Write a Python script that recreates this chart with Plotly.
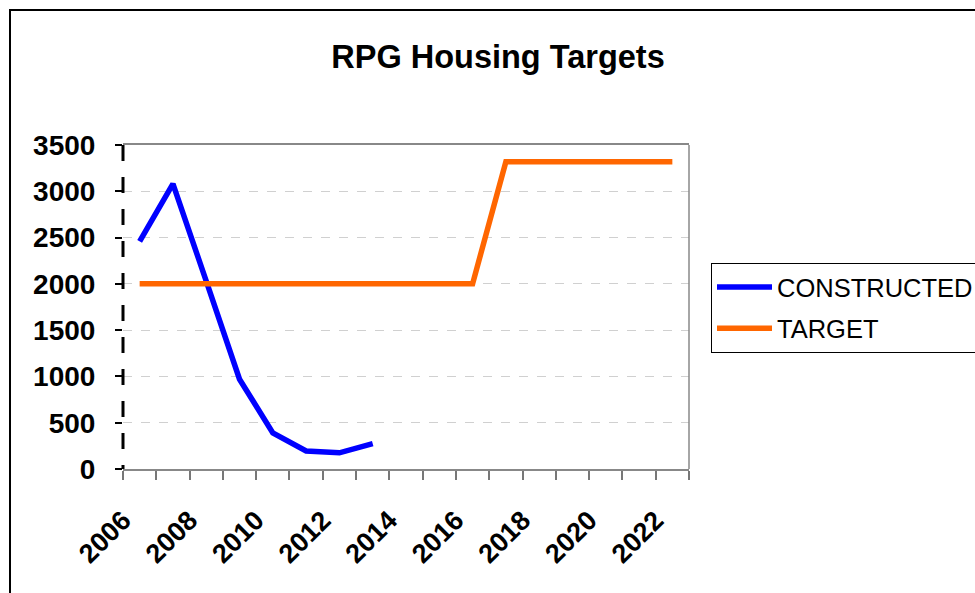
import plotly.graph_objects as go

years = list(range(2006, 2023))
constructed_years = list(range(2006, 2014))
constructed = [2460, 3080, 2030, 970, 390, 195, 175, 275]
target = [2000, 2000, 2000, 2000, 2000, 2000, 2000, 2000, 2000, 2000, 2000,
          3320, 3320, 3320, 3320, 3320, 3320]
x_tick_positions = [y - 0.5 for y in range(2006, 2024)]
x_tick_labels = ["2006", "", "2008", "", "2010", "", "2012", "", "2014", "",
                 "2016", "", "2018", "", "2020", "", "2022", ""]
y_ticks = [0, 500, 1000, 1500, 2000, 2500, 3000, 3500]

FONT = "Arial, Liberation Sans, sans-serif"
W, H = 975, 593
L, R, T, B = 123, 689, 145, 469

fig = go.Figure()
fig.add_trace(go.Scatter(x=constructed_years, y=constructed, mode="lines",
                         name="CONSTRUCTED", line=dict(color="#0000FF", width=5.5),
                         legendgroup="a"))
fig.add_trace(go.Scatter(x=years, y=target, mode="lines", name="TARGET",
                         line=dict(color="#FF6600", width=5.5), legendgroup="b"))

pw, ph = R - L, B - T
def px(xp):
    return (xp - L) / pw
def py(yp):
    return (B - yp) / ph

shapes = [
    # outer chart border
    dict(type="rect", xref="paper", yref="paper", x0=px(10), x1=px(1100),
         y0=py(700), y1=py(10), line=dict(color="black", width=2)),
    # dashed y axis line
    dict(type="line", xref="paper", yref="paper", x0=0, x1=0, y0=1, y1=0,
         line=dict(color="black", width=3, dash="16px,16px")),
    # right border of plot area
    dict(type="line", xref="paper", yref="paper", x0=1, x1=1, y0=0, y1=1,
         line=dict(color="#888888", width=1.5)),
]

fig.update_layout(
    width=W, height=H,
    margin=dict(l=L, r=W - R, t=T, b=H - B, autoexpand=False),
    paper_bgcolor="white", plot_bgcolor="white",
    title=dict(text="<b>RPG Housing Targets</b>", x=498 / W, xref="container",
               xanchor="center", y=1 - 57 / H, yanchor="middle",
               font=dict(family=FONT, size=32.5, color="black")),
    xaxis=dict(range=[2005.5, 2022.5], tickmode="array", tickvals=x_tick_positions,
               ticktext=x_tick_labels, tickangle=-45, ticks="outside", ticklen=9,
               tickcolor="#777777", tickwidth=1.5, showline=True, linecolor="#888888",
               linewidth=1.5, mirror=True, showgrid=False, zeroline=False,
               tickfont=dict(family=FONT, size=27, color="black", weight="bold"),
               ticklabelstandoff=14),
    yaxis=dict(range=[0, 3500], tickmode="array", tickvals=y_ticks,
               ticks="outside", ticklen=7, tickcolor="black", tickwidth=2,
               showline=False, showgrid=True, gridcolor="#d0d0d0", griddash="dash",
               gridwidth=1, zeroline=False,
               tickfont=dict(family=FONT, size=28, color="black", weight="bold"),
               ticklabelstandoff=14),
    legend=dict(x=px(711), y=py(263), xanchor="left", yanchor="top",
                bordercolor="black", borderwidth=1, bgcolor="white",
                font=dict(family=FONT, size=25.5, color="black"),
                itemwidth=55, tracegroupgap=5),
    shapes=shapes,
)

fig.write_html("out.html", config={"displayModeBar": False},
               post_script="document.body.style.margin='0';")
